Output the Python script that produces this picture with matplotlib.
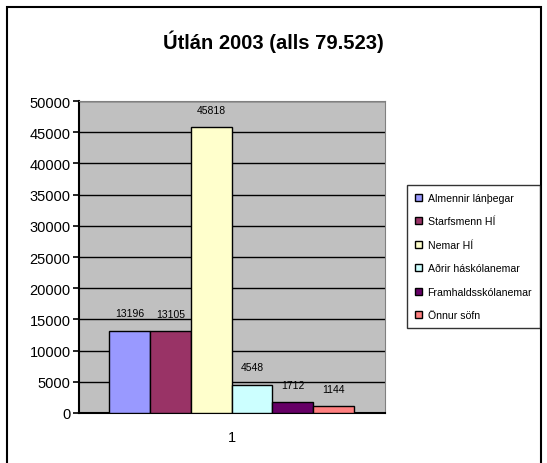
import matplotlib
matplotlib.use('Agg')
import matplotlib.pyplot as plt
from matplotlib.patches import Rectangle

title = 'Útlán 2003 (alls 79.523)'
series_names = ['Almennir lánþegar', 'Starfsmenn HÍ', 'Nemar HÍ',
                'Aðrir háskólanemar', 'Framhaldsskólanemar', 'Önnur söfn']
values = [13196, 13105, 45818, 4548, 1712, 1144]
colors = ['#9999FF', '#993366', '#FFFFCC', '#CCFFFF', '#660066', '#FF8080']
category = '1'
yticks = [0, 5000, 10000, 15000, 20000, 25000, 30000, 35000, 40000, 45000, 50000]

plt.rcParams['font.family'] = ['Liberation Sans', 'DejaVu Sans']

W, H = 547, 464
fig = plt.figure(figsize=(W / 100, H / 100), dpi=100)

# outer chart border
fig.patches.append(Rectangle((7 / W, -0.05), 534 / W, 1.05 - 8 / H,
                             transform=fig.transFigure, fill=False,
                             edgecolor='black', linewidth=1.5))

ax = fig.add_axes([79 / W, 1 - 414 / H, (385 - 79) / W, (414 - 102) / H])
ax.set_facecolor('#C0C0C0')

positions = list(range(len(values)))
bars = ax.bar(positions, values, width=1.0, color=colors,
              edgecolor='black', linewidth=1.0, zorder=3)

for p, v in zip(positions, values):
    ax.annotate(str(v), (p, v), xytext=(0, 12.5), textcoords='offset points',
                ha='center', va='center', fontsize=7.5)

ax.set_xlim(-1.24, 6.26)
ax.set_ylim(0, 50000)
ax.set_yticks(yticks)
ax.set_yticklabels([str(t) for t in yticks], fontsize=10.5)
ax.yaxis.grid(True, color='black', linewidth=1.0, zorder=0)
ax.set_axisbelow(True)
ax.set_xticks([2.5])
ax.set_xticklabels([category], fontsize=10.5)
ax.tick_params(axis='x', length=0, pad=12)
ax.tick_params(axis='y', direction='out', length=4, width=1.2, pad=2)

ax.spines['left'].set_linewidth(1.5)
ax.spines['bottom'].set_linewidth(1.5)
ax.spines['top'].set_color('#808080')
ax.spines['right'].set_color('#808080')

fig.text(0.5, 1 - 42 / H, title, ha='center', va='center',
         fontsize=14.5, fontweight='bold')

leg = fig.legend(handles=list(bars), labels=series_names,
                 loc='upper left', bbox_to_anchor=(407 / W, 1 - 186 / H),
                 fontsize=7.6, frameon=True, fancybox=False, edgecolor='black',
                 handlelength=0.7, handleheight=0.7, handletextpad=0.5,
                 labelspacing=1.28, borderpad=0.75, borderaxespad=0)
leg.get_frame().set_linewidth(1.0)

fig.savefig('out.png', dpi=100)
